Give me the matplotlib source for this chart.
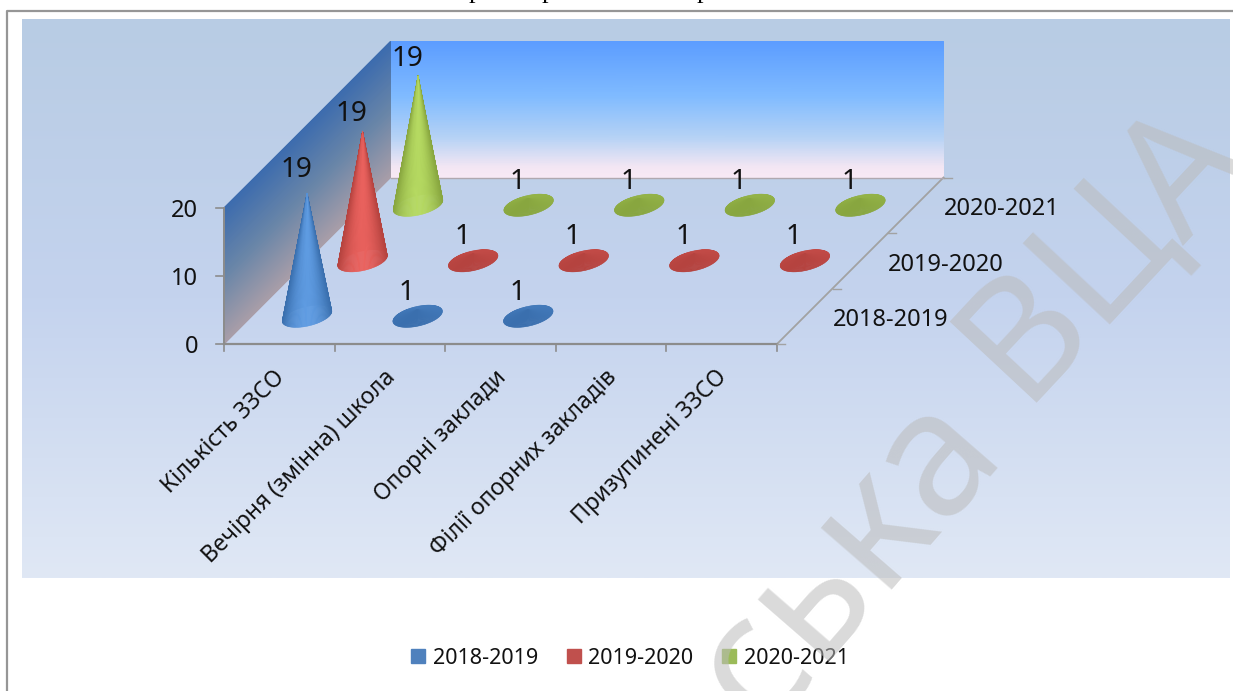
import numpy as np
import matplotlib
matplotlib.use('Agg')
import matplotlib.pyplot as plt
from matplotlib.collections import PolyCollection
from matplotlib.colors import LinearSegmentedColormap, to_rgb
from matplotlib.patches import Patch

categories = ["Кількість ЗЗСО", "Вечірня (змінна) школа", "Опорні заклади",
              "Філії опорних закладів", "Призупинені ЗЗСО"]
series_names = ["2018-2019", "2019-2020", "2020-2021"]
values_2018 = [19, 1, 1, None, None]
values_2019 = [19, 1, 1, 1, 1]
values_2020 = [19, 1, 1, 1, 1]
z_ticks = [0, 10, 20]

legend_colors = ["#4f81bd", "#c0504d", "#9bbb59"]
edge_colors = ["#3a6fae", "#b5433f", "#88a63f"]
light_colors = ["#5f9ce2", "#ea625e", "#b6da62"]
row_scale = [0.95, 1.0, 1.0]

plt.rcParams['font.family'] = ['Noto Sans', 'DejaVu Sans']
GRAY = "#8c8c8c"


def proj(u, v, z=0):
    # oblique projection of the excel 3d box to pixels
    u, v, z = np.asarray(u, float), np.asarray(v, float), np.asarray(z, float)
    return 224 + u * 110.6 + v * 55.5, 344 - v * 55.5 - z * 6.8


fig = plt.figure(figsize=(12.33, 6.91), dpi=100)
ax = fig.add_axes([0, 0, 1, 1])
ax.axis('off')

# page bits around the chart
for x in [475, 548, 703]:
    ax.text(x, -2, "р", family='Liberation Serif', fontsize=19, ha='center', va='baseline', color='black')
ax.plot([7, 7, 1233], [691, 11, 11], color="#969696", lw=1.6, zorder=1)

# chart background
bg = LinearSegmentedColormap.from_list('bg', ["#b8cce4", "#c4d3ee", "#e0e8f5"])
ax.imshow(np.linspace(0, 1, 256).reshape(-1, 1), cmap=bg, extent=[22, 1230, 578, 19], aspect='auto', zorder=1)
ax.set_xlim(0, 1233)
ax.set_ylim(691, 0)

# walls, shaded along height
zz = np.linspace(0, 20, 80)
back = LinearSegmentedColormap.from_list('back', [(0, "#f8e9f5"), (0.08, "#f3e6f3"), (0.3, "#b5d2f5"),
                                                  (0.6, "#80bbff"), (1, "#5c9dff")])
uu, zg = np.meshgrid([0, 5], zz)
X, Y = proj(uu, 3, zg)
ax.pcolormesh(X, Y, zg, cmap=back, shading='gouraud', zorder=2)
side = LinearSegmentedColormap.from_list('side', [(0, "#aa9ea8"), (0.5, "#6a86a8"), (1, "#3d6cae")])
vv, zg = np.meshgrid([0, 3], zz)
X, Y = proj(0, vv, zg)
ax.pcolormesh(X, Y, zg, cmap=side, shading='gouraud', zorder=2)

# axis lines and ticks
x0, y0 = proj(0, 0, 0)
x1, y1 = proj(5, 0, 0)
x2, y2 = proj(5, 3, 0)
x3, y3 = proj(0, 3, 0)
ax.plot([x0, x0], [proj(0, 0, 20)[1], y0], color=GRAY, lw=1.4, zorder=3)
ax.plot([x0, x1], [y0, y1], color=GRAY, lw=1.6, zorder=3)
ax.plot([x1, x2], [y1, y2], color="#a2a2a2", lw=1.3, zorder=3)
ax.plot([x3, x2], [y3, y2], color="#b0a8b0", lw=1.0, zorder=3)
for z in z_ticks:
    tx, ty = proj(0, 0, z)
    ax.plot([tx - 8, tx], [ty, ty], color=GRAY, lw=1.2, zorder=3)
    ax.text(tx - 26, ty, str(z), fontsize=17, ha='right', va='center_baseline', color='#111111', zorder=6)
for i in range(6):
    tx, ty = proj(i, 0, 0)
    ax.plot([tx, tx], [ty, ty + 7], color=GRAY, lw=1.2, zorder=3)
for i in range(4):
    tx, ty = proj(5, i, 0)
    ax.plot([tx, tx + 8], [ty, ty], color="#a2a2a2", lw=1.0, zorder=3)

# category and series labels
for i, name in enumerate(categories):
    tx, ty = proj(i + 0.5, 0, 0)
    ax.text(tx + 2, ty + 30, name, fontsize=16.5, rotation=45, rotation_mode='anchor',
            ha='right', va='center', color='#111111', zorder=6)
for i, name in enumerate(series_names):
    tx, ty = proj(5, i + 0.5, 0)
    ax.text(tx + 28, ty + 1, name, fontsize=17, ha='left', va='center_baseline', color='#111111', zorder=6)


def draw_cone(u, v, value, row):
    t = np.linspace(0, 2 * np.pi, 121)
    bx, by = proj(u + 0.2 * np.cos(t), v + 0.2 * np.sin(t), 0)
    tx, ty = proj(u, v, value * row_scale[row])
    tall = value > 5
    polys, cols = [], []
    lo = np.array(to_rgb(edge_colors[row]))
    hi = np.array(to_rgb(light_colors[row]))
    for k in np.argsort(by[:-1] + by[1:]):
        polys.append([(tx, ty), (bx[k], by[k]), (bx[k + 1], by[k + 1])])
        mid = (t[k] + t[k + 1]) / 2
        light = max(0, np.cos(mid + np.radians(64))) ** 2
        if not tall:
            # nearly flat cones stay dark, a bit lighter to the far side
            light = 0.12 + 0.12 * np.sin(mid)
        cols.append(lo + (hi - lo) * light)
    ax.add_collection(PolyCollection(polys, facecolors=cols, edgecolors=cols, linewidths=0.4, zorder=4))
    lx, ly = proj(u, v, value)
    off = 21 if tall else 20
    ax.text(lx - 11, ly - off, str(value), fontsize=20, ha='center', va='center_baseline', color='#111111', zorder=6)


all_values = [values_2018, values_2019, values_2020]
for row in [2, 1, 0]:
    for col, val in enumerate(all_values[row]):
        if val is not None:
            draw_cone(col + 0.5, row + 0.5, val, row)

# legend
handles = [Patch(color=c, label=n) for c, n in zip(legend_colors, series_names)]
ax.legend(handles=handles, loc='center', bbox_to_anchor=(630, 658), bbox_transform=ax.transData, ncol=3,
          frameon=False, fontsize=15.5, handlelength=0.65, handleheight=0.65, handletextpad=0.35,
          columnspacing=1.33, labelcolor='#111111')

# watermark
ax.text(848, 560, "ська", fontsize=126, rotation=49, rotation_mode='anchor', ha='center', va='center',
        color='#bbbbbb', alpha=0.55, zorder=10)
ax.text(1105, 250, "ВЦА", fontsize=120, rotation=47, rotation_mode='anchor', ha='center', va='center',
        color='#bbbbbb', alpha=0.55, zorder=10, clip_on=True)

fig.savefig('out.png', dpi=100)
